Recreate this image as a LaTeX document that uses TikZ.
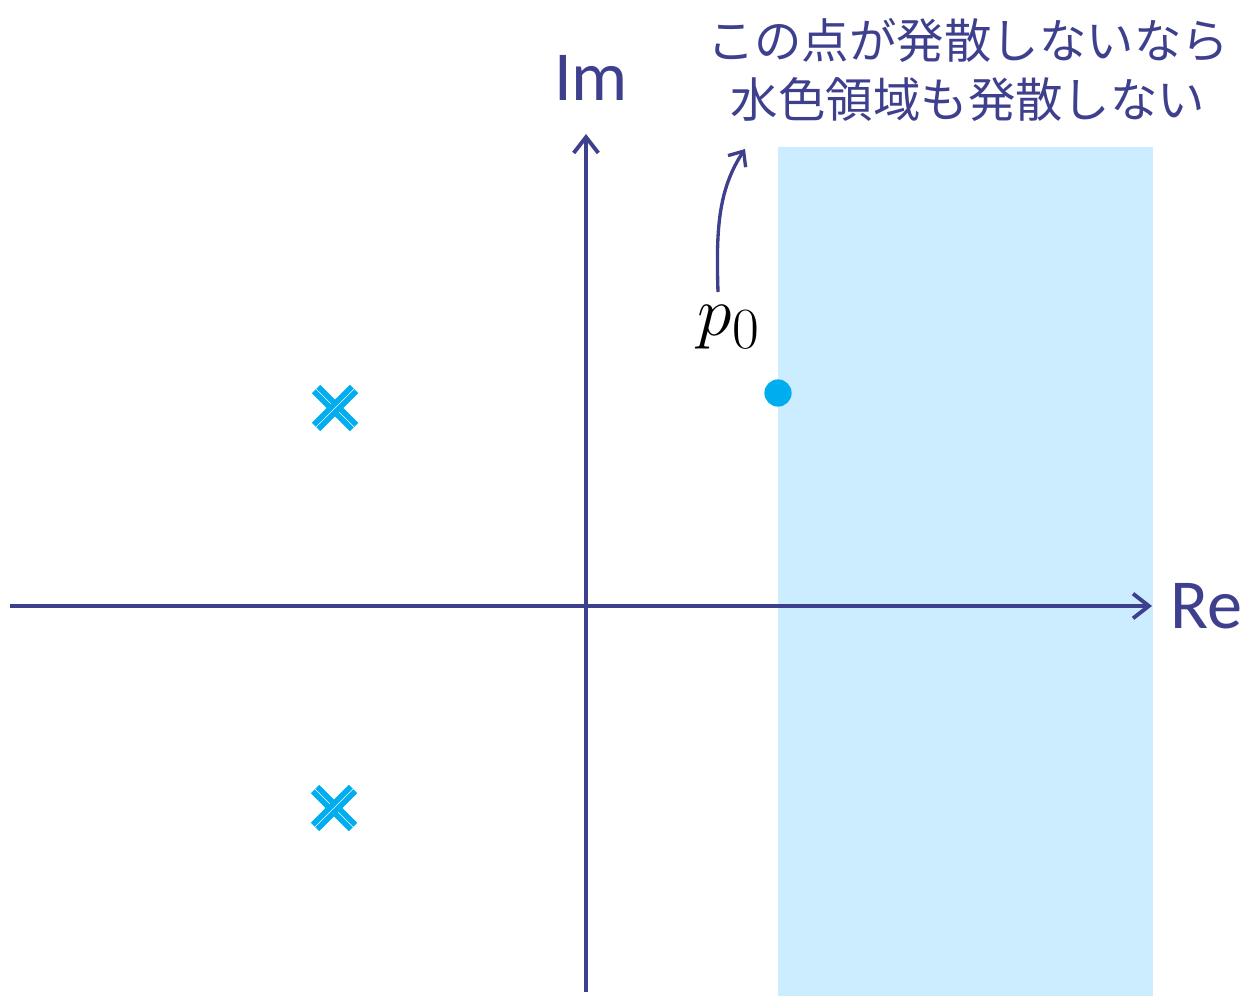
\documentclass[tikz,border=0pt]{standalone}
\usepackage{fontspec}
\setmainfont{Carlito}
\newfontfamily\jpfont{Noto Sans CJK JP}
\usetikzlibrary{arrows.meta}
\definecolor{axisblue}{RGB}{62,64,142}
\definecolor{regionblue}{RGB}{204,236,255}
\definecolor{polecyan}{RGB}{0,174,239}
\tikzset{
  axisline/.style={draw=axisblue, line width=2.2pt, -{Straight Barb[length=9pt,width=14pt,line width=2.2pt]}},
  axislabel/.style={text=axisblue, font=\fontsize{40}{46}\selectfont},
  poleline/.style={draw=polecyan, line width=3.2pt, double=white, double distance=0.35pt},
  notelabel/.style={text=axisblue, font=\jpfont\fontsize{27}{34}\selectfont, align=center},
  notearrow/.style={draw=axisblue, line width=1.9pt, -{Straight Barb[length=7pt,width=12pt,line width=1.9pt]}},
}
\begin{document}
\begin{tikzpicture}[x=0.02cm,y=-0.02cm]
\useasboundingbox (0,0) rectangle (1248,996);
\fill[regionblue] (778,147) rectangle (1153,996);
\coordinate (xs) at (10,606);
\coordinate (xe) at (1152,606);
\coordinate (ys) at (586,992);
\coordinate (ye) at (586,134);
\draw[axisline] (xs) -- (xe);
\draw[axisline] (ys) -- (ye);
\node[axislabel] (re) at (1206,606) {Re};
\node[axislabel] (im) at (591,78) {Im};
\node[circle, fill=polecyan, minimum size=15.5pt, inner sep=0pt] (p0) at (778,393) {};
\node[text=black, inner sep=0pt] (p0l) at (729,327) {\scalebox{1.6}{\fontsize{24.88}{30}\selectfont$p_0$}};
\node[notelabel] (note) at (968,70) {この点が発散しないなら\\水色領域も発散しない};
\coordinate (ae) at (745,149);
\coordinate (as) at (718,292);
\draw[notearrow] (as) .. controls (716,230) and (718,190) .. (ae);
\coordinate (c1) at (335,408);
\coordinate (c2) at (334,808);
\foreach \c in {c1,c2}{
  \draw[poleline] ([shift={(-19,-19)}]\c) -- ([shift={(19,19)}]\c);
  \draw[poleline] ([shift={(-19,19)}]\c) -- ([shift={(19,-19)}]\c);
}
\end{tikzpicture}
\end{document}
